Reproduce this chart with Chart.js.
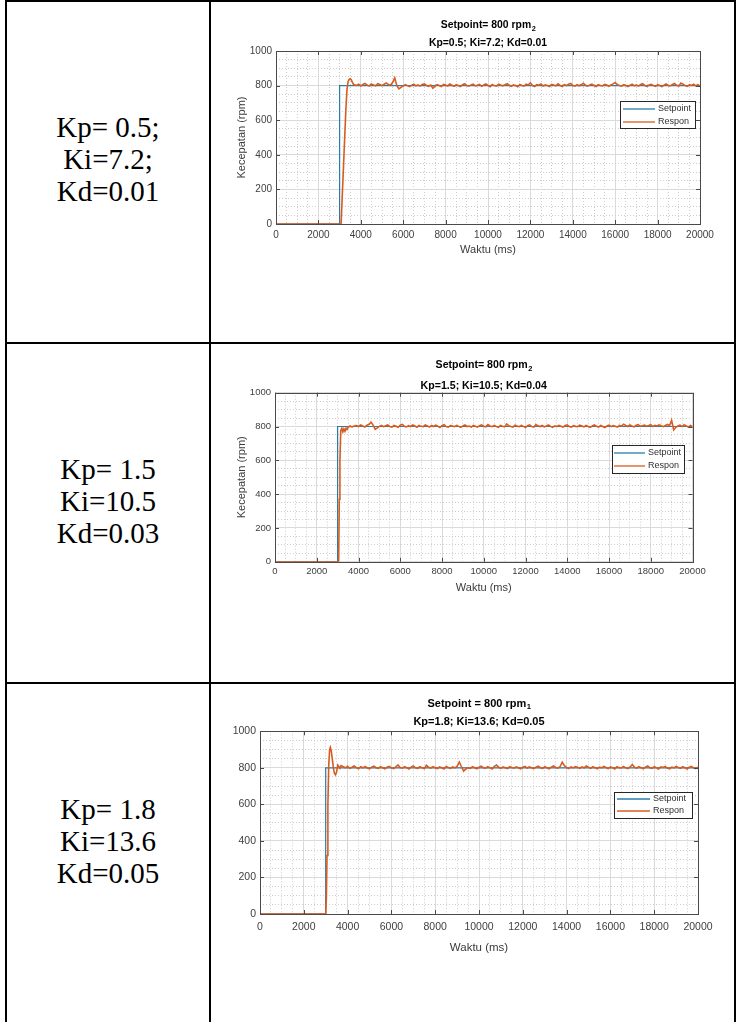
<!DOCTYPE html>
<html>
<head>
<meta charset="utf-8">
<script src="https://cdn.jsdelivr.net/npm/chart.js@4.4.1/dist/chart.umd.min.js"></script>
<style>
  body { margin: 0; background: #fff; }
  #halaman { position: relative; width: 736px; height: 1022px; overflow: hidden; background: #fff; }
  .garis { position: absolute; background: #000; }
  .ket {
    position: absolute; left: 7px; width: 202px; text-align: center;
    font-family: "Liberation Serif", "Times New Roman", serif;
    font-size: 29px; line-height: 32px; color: #000;
  }
  canvas { position: absolute; }
</style>
</head>
<body>
<div id="halaman">
  <div class="garis" style="left:5px;top:0;width:731px;height:2px"></div>
  <div class="garis" style="left:5px;top:0;width:2px;height:1022px"></div>
  <div class="garis" style="left:209px;top:0;width:2px;height:1022px"></div>
  <div class="garis" style="left:734px;top:0;width:2px;height:1022px"></div>
  <div class="garis" style="left:5px;top:342px;width:731px;height:2px"></div>
  <div class="garis" style="left:5px;top:682px;width:731px;height:2px"></div>

  <div class="ket" style="top:111px">Kp= 0.5;<br>Ki=7.2;<br>Kd=0.01</div>
  <div class="ket" style="top:453px">Kp= 1.5<br>Ki=10.5<br>Kd=0.03</div>
  <div class="ket" style="top:793px">Kp= 1.8<br>Ki=13.6<br>Kd=0.05</div>
</div>
<script>
// label sumbu
const labelWaktu = [0, 2000, 4000, 6000, 8000, 10000, 12000, 14000, 16000, 18000, 20000];
const labelKecepatan = [0, 200, 400, 600, 800, 1000];

// judul tiap grafik
const judulSetpoint = ['Setpoint= 800 rpm', 'Setpoint= 800 rpm', 'Setpoint = 800 rpm'];
const subskrip = ['2', '2', '1'];
const judulGain = ['Kp=0.5; Ki=7.2; Kd=0.01', 'Kp=1.5; Ki=10.5; Kd=0.04', 'Kp=1.8; Ki=13.6; Kd=0.05'];

// setpoint (sama untuk ketiga grafik)
const waktuSetpoint = [0, 3000, 3000, 20000];
const nilaiSetpoint = [0, 0, 800, 800];

// respon transien (ms, rpm)
const waktuAwal1 = [0, 3000, 3070, 3130, 3190, 3250, 3300, 3350, 3400, 3450, 3500, 3550, 3600, 3650];
const responAwal1 = [0, 0, 0, 175, 350, 530, 670, 780, 822, 836, 840, 834, 820, 808];

const waktuAwal2 = [0, 3000, 3050, 3080, 3110, 3150, 3200, 3250, 3300, 3350, 3400, 3450, 3500, 3550, 3600, 3650];
const responAwal2 = [0, 0, 0, 370, 600, 775, 790, 768, 786, 772, 790, 782, 795, 800, 803, 799];

const waktuAwal3 = [0, 3000, 3030, 3060, 3100, 3140, 3180, 3210, 3250, 3300, 3350, 3400, 3450, 3500, 3550, 3600, 3650];
const responAwal3 = [0, 0, 85, 320, 600, 820, 900, 912, 895, 850, 800, 770, 762, 778, 815, 808, 798];

// respon tunak, dicuplik tiap 100 ms
const waktuTunak = [
  3700, 3800, 3900, 4000, 4100, 4200, 4300, 4400, 4500, 4600,
  4700, 4800, 4900, 5000, 5100, 5200, 5300, 5400, 5500, 5600,
  5700, 5800, 5900, 6000, 6100, 6200, 6300, 6400, 6500, 6600,
  6700, 6800, 6900, 7000, 7100, 7200, 7300, 7400, 7500, 7600,
  7700, 7800, 7900, 8000, 8100, 8200, 8300, 8400, 8500, 8600,
  8700, 8800, 8900, 9000, 9100, 9200, 9300, 9400, 9500, 9600,
  9700, 9800, 9900, 10000, 10100, 10200, 10300, 10400, 10500, 10600,
  10700, 10800, 10900, 11000, 11100, 11200, 11300, 11400, 11500, 11600,
  11700, 11800, 11900, 12000, 12100, 12200, 12300, 12400, 12500, 12600,
  12700, 12800, 12900, 13000, 13100, 13200, 13300, 13400, 13500, 13600,
  13700, 13800, 13900, 14000, 14100, 14200, 14300, 14400, 14500, 14600,
  14700, 14800, 14900, 15000, 15100, 15200, 15300, 15400, 15500, 15600,
  15700, 15800, 15900, 16000, 16100, 16200, 16300, 16400, 16500, 16600,
  16700, 16800, 16900, 17000, 17100, 17200, 17300, 17400, 17500, 17600,
  17700, 17800, 17900, 18000, 18100, 18200, 18300, 18400, 18500, 18600,
  18700, 18800, 18900, 19000, 19100, 19200, 19300, 19400, 19500, 19600,
  19700, 19800, 19900, 20000
];

const responTunak1 = [
  805, 801, 808, 798, 806, 812, 803, 797, 809, 804,
  799, 811, 806, 800, 808, 815, 806, 802, 818, 845,
  800, 781, 790, 798, 806, 800, 794, 803, 808, 799,
  804, 797, 806, 810, 801, 796, 803, 785, 797, 806,
  801, 795, 807, 803, 798, 809, 802, 796, 805, 800,
  794, 806, 811, 800, 797, 804, 808, 799, 802, 807,
  796, 803, 809, 801, 794, 806, 800, 797, 808, 803,
  799, 805, 811, 802, 796, 804, 800, 793, 806, 801,
  797, 808, 804, 816, 800, 795, 806, 802, 809, 798,
  804, 800, 794, 807, 803, 799, 810, 801, 796, 805,
  800, 808, 812, 801, 797, 805, 799, 806, 814, 802,
  797, 804, 809, 800, 795, 806, 801, 798, 807, 803,
  796, 804, 810, 818, 806, 800, 797, 805, 800, 794,
  802, 808, 799, 804, 797, 806, 811, 800, 795, 803,
  807, 801, 796, 805, 800, 794, 803, 809, 801, 798,
  806, 812, 802, 797, 815, 808, 800, 796, 805, 801,
  808, 799, 805, 798
];

const responTunak2 = [
  798, 803, 806, 800, 810, 804, 797, 808, 812, 826,
  808, 784, 792, 801, 806, 799, 804, 809, 800, 797,
  806, 802, 795, 808, 813, 801, 798, 805, 800, 809,
  803, 796, 807, 801, 799, 810, 804, 797, 806, 800,
  808, 802, 794, 805, 811, 800, 797, 806, 803, 799,
  807, 801, 795, 804, 809, 800, 803, 797, 806, 801,
  796, 805, 810, 801, 798, 812, 803, 799, 806, 800,
  795, 807, 802, 798, 815, 804, 800, 796, 808, 803,
  799, 806, 801, 794, 805, 810, 800, 797, 812, 804,
  800, 806, 798, 803, 809, 801, 795, 804, 800, 807,
  802, 797, 806, 810, 800, 796, 805, 801, 799, 808,
  803, 798, 806, 800, 795, 804, 809, 801, 797, 806,
  800, 794, 803, 808, 799, 805, 801, 797, 806, 802,
  814, 806, 800, 809, 803, 798, 807, 811, 801, 805,
  809, 802, 806, 811, 800, 807, 803, 810, 804, 799,
  806, 812, 805, 837, 780, 795, 803, 808, 800, 811,
  804, 797, 806, 800
];

const responTunak3 = [
  812, 806, 800, 808, 797, 803, 810, 801, 795, 806,
  800, 807, 799, 794, 804, 809, 801, 797, 806, 800,
  795, 803, 808, 800, 796, 805, 816, 802, 798, 806,
  801, 794, 804, 810, 800, 797, 806, 801, 795, 814,
  803, 799, 807, 801, 796, 805, 800, 794, 808, 802,
  797, 805, 800, 808, 832, 806, 782, 794, 801, 797,
  806, 800, 795, 803, 809, 801, 798, 806, 800, 794,
  808, 815, 803, 797, 805, 800, 796, 807, 802, 798,
  805, 800, 794, 803, 808, 799, 805, 801, 796, 804,
  809, 801, 797, 806, 800, 795, 804, 810, 802, 798,
  806, 831, 812, 801, 796, 805, 800, 807, 803, 797,
  805, 800, 810, 803, 797, 806, 801, 795, 804, 800,
  808, 802, 796, 805, 800, 794, 806, 801, 799, 807,
  800, 796, 805, 818, 803, 798, 806, 801, 795, 804,
  810, 801, 797, 806, 800, 794, 805, 802, 808, 799,
  795, 804, 800, 808, 802, 797, 806, 801, 794, 803,
  808, 800, 796, 804
];

const waktuAwal = [waktuAwal1, waktuAwal2, waktuAwal3];
const responAwal = [responAwal1, responAwal2, responAwal3];
const responTunak = [responTunak1, responTunak2, responTunak3];

const warnaSetpoint = '#2a7cab';
const warnaRespon = '#d85c1f';
const hurufSans = '"Liberation Sans", Arial, sans-serif';

// posisi (koordinat halaman)
const tataLetak = [
  { kanvas: { x: 212, y: 3, w: 521, h: 339 }, plot: { l: 276, r: 700, t: 51, b: 224 },
    judulY: [25, 43.5], fJudul: 10.4, fTick: 10, tickPad: 5, labelXY: 250, labelYX: 242, fLabel: 11,
    legenda: { x1: 620, x2: 695, y1: 101, y2: 128, baris: [109, 122], g1: 623, g2: 655, teks: 658, f: 9 } },
  { kanvas: { x: 212, y: 345, w: 521, h: 337 }, plot: { l: 275, r: 692.5, t: 392.7, b: 561.8 },
    judulY: [365, 386.5], fJudul: 10.6, fTick: 9.5, tickPad: 4, labelXY: 588, labelYX: 242, fLabel: 11,
    legenda: { x1: 612, x2: 684, y1: 445, y2: 473, baris: [453, 466], g1: 614, g2: 645, teks: 648, f: 9 } },
  { kanvas: { x: 212, y: 685, w: 521, h: 337 }, plot: { l: 260, r: 698, t: 731.3, b: 914 },
    judulY: [703.5, 722], fJudul: 11, fTick: 10.5, tickPad: 7, labelXY: 947.5, labelYX: null, fLabel: 11.5,
    legenda: { x1: 614, x2: 692, y1: 792, y2: 818, baris: [799, 811], g1: 617, g2: 650, teks: 653, f: 9 } }
];

const hiasanMatlab = {
  id: 'hiasanMatlab',
  afterDatasetsDraw(chart, args, opt) {
    const { ctx, chartArea: a, scales: { x, y } } = chart;
    const ox = opt.ox, oy = opt.oy;
    ctx.save();
    // kotak sumbu dan tick ke dalam
    ctx.strokeStyle = '#4a4a4a';
    ctx.lineWidth = 1;
    ctx.strokeRect(Math.round(a.left) + 0.5, Math.round(a.top) + 0.5,
      Math.round(a.right) - Math.round(a.left), Math.round(a.bottom) - Math.round(a.top));
    ctx.beginPath();
    labelWaktu.forEach(v => {
      const px = Math.round(x.getPixelForValue(v)) + 0.5;
      ctx.moveTo(px, a.bottom); ctx.lineTo(px, a.bottom - 4);
      ctx.moveTo(px, a.top); ctx.lineTo(px, a.top + 4);
    });
    labelKecepatan.forEach(v => {
      const py = Math.round(y.getPixelForValue(v)) + 0.5;
      ctx.moveTo(a.left, py); ctx.lineTo(a.left + 4, py);
      ctx.moveTo(a.right, py); ctx.lineTo(a.right - 4, py);
    });
    ctx.stroke();

    // legenda
    const L = opt.legenda;
    ctx.fillStyle = '#fff';
    ctx.fillRect(L.x1 - ox, L.y1 - oy, L.x2 - L.x1, L.y2 - L.y1);
    ctx.strokeStyle = '#262626';
    ctx.lineWidth = 1;
    ctx.strokeRect(Math.round(L.x1 - ox) + 0.5, Math.round(L.y1 - oy) + 0.5,
      Math.round(L.x2 - L.x1), Math.round(L.y2 - L.y1));
    ctx.font = `${L.f}px ${hurufSans}`;
    ctx.textBaseline = 'middle';
    ctx.textAlign = 'left';
    chart.data.datasets.forEach((ds, i) => {
      const cy = L.baris[i] - oy;
      ctx.strokeStyle = ds.borderColor;
      ctx.lineWidth = 1.3;
      ctx.beginPath();
      ctx.moveTo(L.g1 - ox, cy); ctx.lineTo(L.g2 - ox, cy);
      ctx.stroke();
      ctx.fillStyle = '#303030';
      ctx.fillText(ds.label, L.teks - ox, cy);
    });
    ctx.restore();
  },
  afterDraw(chart, args, opt) {
    const { ctx, chartArea: a } = chart;
    const ox = opt.ox, oy = opt.oy;
    const cx = (a.left + a.right) / 2;
    ctx.save();
    ctx.fillStyle = '#000';
    ctx.textBaseline = 'middle';
    // judul baris 1 dengan subskrip
    ctx.font = `bold ${opt.fJudul}px ${hurufSans}`;
    const w1 = ctx.measureText(opt.judul).width;
    ctx.font = `bold ${opt.fJudul * 0.7}px ${hurufSans}`;
    const w2 = ctx.measureText(opt.sub).width;
    const x0 = cx - (w1 + w2) / 2;
    ctx.textAlign = 'left';
    ctx.font = `bold ${opt.fJudul}px ${hurufSans}`;
    ctx.fillText(opt.judul, x0, opt.judulY[0] - oy);
    ctx.font = `bold ${opt.fJudul * 0.7}px ${hurufSans}`;
    ctx.fillText(opt.sub, x0 + w1 + 0.5, opt.judulY[0] - oy + opt.fJudul * 0.35);
    // judul baris 2
    ctx.textAlign = 'center';
    ctx.font = `bold ${opt.fJudul}px ${hurufSans}`;
    ctx.fillText(opt.gain, cx, opt.judulY[1] - oy);
    // label sumbu
    ctx.fillStyle = '#3a3a3a';
    ctx.font = `${opt.fLabel}px ${hurufSans}`;
    ctx.fillText('Waktu (ms)', cx, opt.labelXY - oy);
    if (opt.labelYX !== null) {
      ctx.translate(opt.labelYX - ox, (a.top + a.bottom) / 2);
      ctx.rotate(-Math.PI / 2);
      ctx.fillText('Kecepatan (rpm)', 0, 0);
    }
    ctx.restore();
  }
};

const halaman = document.getElementById('halaman');

tataLetak.forEach((t, i) => {
  const k = t.kanvas;
  const kanvas = document.createElement('canvas');
  kanvas.width = k.w;
  kanvas.height = k.h;
  kanvas.style.left = k.x + 'px';
  kanvas.style.top = k.y + 'px';
  halaman.appendChild(kanvas);

  const titikSetpoint = waktuSetpoint.map((w, j) => ({ x: w, y: nilaiSetpoint[j] }));
  const titikRespon = waktuAwal[i].map((w, j) => ({ x: w, y: responAwal[i][j] }))
    .concat(waktuTunak.map((w, j) => ({ x: w, y: responTunak[i][j] })));

  const gridWarna = (daftar) => (c) => (c.tick && daftar.includes(c.tick.value)) ? '#dadada' : '#cdcdcd';
  const gridDash = (daftar) => (c) => (c.tick && daftar.includes(c.tick.value)) ? [] : [1, 2];
  const tickFont = { family: hurufSans, size: t.fTick };

  new Chart(kanvas, {
    type: 'line',
    data: {
      datasets: [
        { label: 'Setpoint', data: titikSetpoint, borderColor: warnaSetpoint, borderWidth: 1.2,
          pointRadius: 0, tension: 0, order: 2 },
        { label: 'Respon', data: titikRespon, borderColor: warnaRespon, borderWidth: 1.6,
          pointRadius: 0, tension: 0, order: 1 }
      ]
    },
    options: {
      responsive: false,
      animation: false,
      devicePixelRatio: 1,
      layout: { padding: { top: t.plot.t - k.y, right: k.x + k.w - t.plot.r, bottom: 0, left: 0 } },
      plugins: {
        legend: { display: false },
        tooltip: { enabled: false },
        hiasanMatlab: {
          ox: k.x, oy: k.y, legenda: t.legenda, judul: judulSetpoint[i], sub: subskrip[i],
          gain: judulGain[i], judulY: t.judulY, fJudul: t.fJudul, fLabel: t.fLabel,
          labelXY: t.labelXY, labelYX: t.labelYX
        }
      },
      scales: {
        x: {
          type: 'linear', min: 0, max: 20000,
          afterFit: (s) => { s.height = k.y + k.h - t.plot.b; },
          border: { display: false, dash: gridDash(labelWaktu) },
          grid: { color: gridWarna(labelWaktu), lineWidth: 1, drawTicks: false },
          ticks: {
            stepSize: 500, autoSkip: false, maxRotation: 0, padding: t.tickPad,
            font: tickFont, color: '#404040',
            callback: (v) => labelWaktu.includes(v) ? String(v) : ''
          }
        },
        y: {
          type: 'linear', min: 0, max: 1000,
          afterFit: (s) => { s.width = t.plot.l - k.x; },
          border: { display: false, dash: gridDash(labelKecepatan) },
          grid: { color: gridWarna(labelKecepatan), lineWidth: 1, drawTicks: false },
          ticks: {
            stepSize: 50, autoSkip: false, padding: 4,
            font: tickFont, color: '#404040',
            callback: (v) => labelKecepatan.includes(v) ? String(v) : ''
          }
        }
      }
    },
    plugins: [hiasanMatlab]
  });
});
</script>
</body>
</html>
